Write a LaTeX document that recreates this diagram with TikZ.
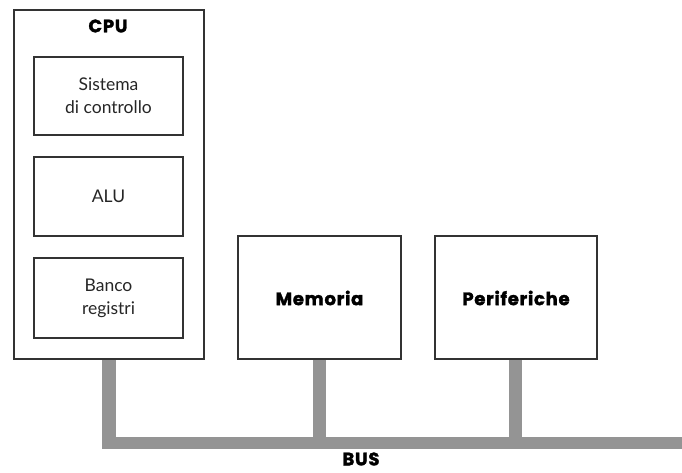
\documentclass[tikz,border=0pt]{standalone}
\usepackage{fontspec}
\setmainfont{Lato}
\newfontfamily\boldfam{Poppins}[LetterSpace=4,FakeBold=1.8]
\begin{document}
\begin{tikzpicture}[x=1pt,y=-1pt,
  box/.style={draw=black!80,line width=1.2pt,fill=white},
  txt/.style={font=\fontsize{17.5}{23}\selectfont,align=center,text=black!85},
  btxt/.style={font=\boldfam\fontsize{18}{20}\selectfont\bfseries,text=black},
  bus/.style={draw=none,fill=black!42}]
\useasboundingbox (0,0) rectangle (682,472);
% bus
\fill[black!42] (102,359) rectangle (116,449);
\fill[black!42] (102,437) rectangle (682,449);
\fill[black!42] (313,359) rectangle (326,437);
\fill[black!42] (509,359) rectangle (522,437);
% boxes
\draw[box] (14,10) rectangle (204,359);
\node[btxt] (cpu) at (108,26) {CPU};
\draw[box] (34,57) rectangle (183,135);
\node[txt] (sis) at (108.5,96) {Sistema\\di controllo};
\draw[box] (34,157) rectangle (183,236);
\node[txt] (alu) at (108.5,196.5) {ALU};
\draw[box] (34,258) rectangle (183,338);
\node[txt] (banco) at (108.5,298) {Banco\\registri};
\draw[box] (238,236) rectangle (401,359);
\node[btxt] (mem) at (319.5,298) {Memoria};
\draw[box] (435,236) rectangle (597,359);
\node[btxt] (per) at (516,298) {Periferiche};
\node[btxt,inner sep=0pt] (busl) at (361,459) {BUS};
\end{tikzpicture}
\end{document}
